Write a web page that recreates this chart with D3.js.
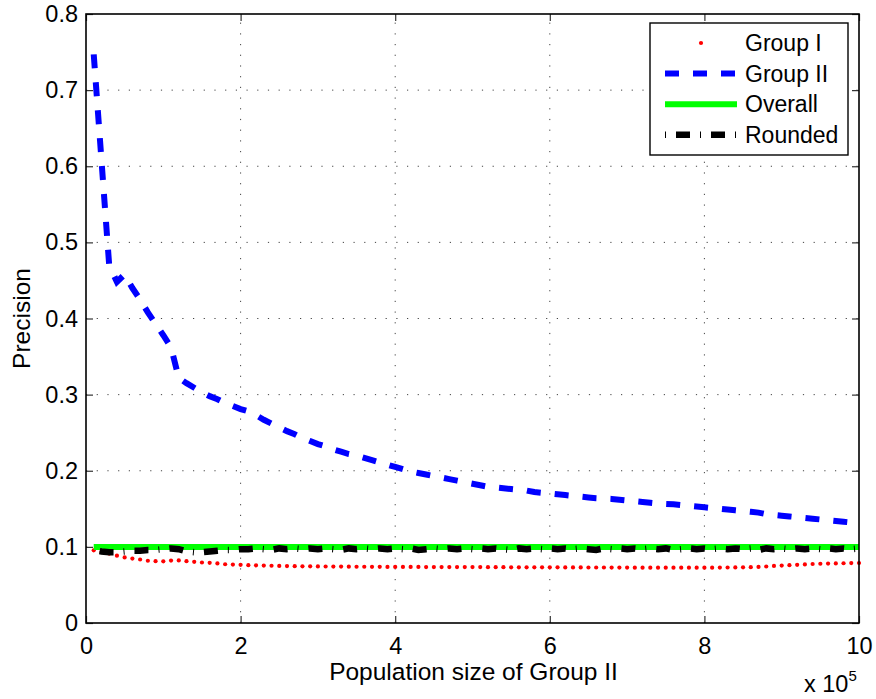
<!DOCTYPE html>
<html>
<head>
<meta charset="utf-8">
<script src="https://cdn.jsdelivr.net/npm/d3@7/dist/d3.min.js"></script>
<style>
  html, body { margin: 0; padding: 0; background: #fff; }
  svg text { font-family: "Liberation Sans", Arial, Helvetica, sans-serif; fill: #000; }
</style>
</head>
<body>
<svg id="chart" width="876" height="699"></svg>
<script>
// Population size of Group II, in units of 1e4 people
const populationSize = [
  1,2,3,4,5,6,7,8,9,10,11,12,13,14,15,16,17,18,19,20,
  21,22,23,24,25,26,27,28,29,30,31,32,33,34,35,36,37,38,39,40,
  41,42,43,44,45,46,47,48,49,50,51,52,53,54,55,56,57,58,59,60,
  61,62,63,64,65,66,67,68,69,70,71,72,73,74,75,76,77,78,79,80,
  81,82,83,84,85,86,87,88,89,90,91,92,93,94,95,96,97,98,99,100
];

const groupI = [
  0.0955,0.0933,0.0912,0.0885,0.0862,0.0846,0.0834,0.0818,0.0812,0.0810,
  0.0820,0.0822,0.0812,0.0803,0.0795,0.0790,0.0782,0.0772,0.0768,0.0764,
  0.0760,0.0757,0.0755,0.0752,0.0750,0.0748,0.0746,0.0745,0.0744,0.0743,
  0.0742,0.0741,0.0741,0.0740,0.0739,0.0739,0.0738,0.0738,0.0737,0.0737,
  0.0736,0.0736,0.0736,0.0735,0.0735,0.0735,0.0735,0.0734,0.0734,0.0734,
  0.0734,0.0733,0.0733,0.0733,0.0732,0.0732,0.0732,0.0731,0.0731,0.0731,
  0.0731,0.0730,0.0730,0.0730,0.0729,0.0729,0.0729,0.0728,0.0728,0.0728,
  0.0727,0.0727,0.0727,0.0727,0.0727,0.0727,0.0727,0.0727,0.0727,0.0727,
  0.0727,0.0728,0.0729,0.0730,0.0731,0.0733,0.0736,0.0742,0.0750,0.0755,
  0.0760,0.0764,0.0770,0.0775,0.0778,0.0781,0.0783,0.0785,0.0787,0.0788
];

const groupII = [
  0.747,0.608,0.470,0.448,0.458,0.440,0.425,0.408,0.393,0.378,
  0.362,0.322,0.315,0.309,0.303,0.298,0.294,0.289,0.285,0.281,
  0.278,0.273,0.267,0.262,0.257,0.252,0.248,0.243,0.239,0.235,
  0.232,0.228,0.225,0.222,0.220,0.217,0.214,0.211,0.208,0.205,
  0.202,0.199,0.197,0.195,0.193,0.191,0.189,0.187,0.185,0.183,
  0.181,0.179,0.178,0.177,0.176,0.175,0.174,0.172,0.171,0.170,
  0.169,0.168,0.167,0.166,0.165,0.164,0.1635,0.163,0.162,0.161,
  0.160,0.159,0.158,0.157,0.1565,0.156,0.155,0.154,0.153,0.152,
  0.151,0.150,0.149,0.148,0.147,0.146,0.145,0.143,0.142,0.141,
  0.140,0.139,0.138,0.137,0.136,0.135,0.134,0.133,0.132,0.131
];

const overall = [
  0.1,0.1,0.1,0.1,0.1,0.1,0.1,0.1,0.1,0.1,0.1,0.1,0.1,0.1,0.1,0.1,0.1,0.1,0.1,0.1,
  0.1,0.1,0.1,0.1,0.1,0.1,0.1,0.1,0.1,0.1,0.1,0.1,0.1,0.1,0.1,0.1,0.1,0.1,0.1,0.1,
  0.1,0.1,0.1,0.1,0.1,0.1,0.1,0.1,0.1,0.1,0.1,0.1,0.1,0.1,0.1,0.1,0.1,0.1,0.1,0.1,
  0.1,0.1,0.1,0.1,0.1,0.1,0.1,0.1,0.1,0.1,0.1,0.1,0.1,0.1,0.1,0.1,0.1,0.1,0.1,0.1,
  0.1,0.1,0.1,0.1,0.1,0.1,0.1,0.1,0.1,0.1,0.1,0.1,0.1,0.1,0.1,0.1,0.1,0.1,0.1,0.1
];

const rounded = [
  0.096,0.094,0.093,0.093,0.094,0.095,0.095,0.096,0.096,0.097,
  0.098,0.097,0.094,0.093,0.093,0.094,0.095,0.096,0.096,0.097,
  0.097,0.098,0.097,0.096,0.098,0.097,0.098,0.097,0.098,0.097,
  0.098,0.097,0.096,0.098,0.097,0.098,0.097,0.098,0.097,0.098,
  0.097,0.098,0.096,0.097,0.098,0.097,0.098,0.097,0.098,0.097,
  0.098,0.097,0.098,0.097,0.096,0.098,0.097,0.098,0.097,0.098,
  0.097,0.098,0.097,0.098,0.097,0.096,0.098,0.097,0.098,0.097,
  0.098,0.097,0.098,0.097,0.098,0.096,0.097,0.098,0.097,0.098,
  0.097,0.098,0.097,0.098,0.097,0.098,0.096,0.098,0.097,0.098,
  0.097,0.098,0.097,0.098,0.097,0.098,0.097,0.098,0.097,0.098
];

const xTicks = [0, 2, 4, 6, 8, 10];          // in units of 1e5
const yTicks = [0, 0.1, 0.2, 0.3, 0.4, 0.5, 0.6, 0.7, 0.8];
const seriesNames = ["Group I", "Group II", "Overall", "Rounded"];

const svg = d3.select("#chart");
const W = 876, H = 699;
const margin = { left: 86, right: 17, top: 14, bottom: 76 };
const plotW = W - margin.left - margin.right;
const plotH = H - margin.top - margin.bottom;

const x = d3.scaleLinear().domain([0, 10]).range([margin.left, margin.left + plotW]);
const y = d3.scaleLinear().domain([0, 0.8]).range([margin.top + plotH, margin.top]);

const xv = i => x(populationSize[i] / 10);   // 1e4 units -> 1e5 units

svg.append("rect").attr("width", W).attr("height", H).attr("fill", "#fff");

// grid
const grid = svg.append("g").attr("stroke", "#444").attr("stroke-width", 1)
  .attr("stroke-dasharray", "1.2,9.5").attr("fill", "none");
xTicks.slice(1, -1).forEach(t => {
  grid.append("line").attr("x1", x(t)).attr("x2", x(t))
    .attr("y1", y(0)).attr("y2", y(0.8));
});
yTicks.slice(1, -1).forEach(t => {
  grid.append("line").attr("x1", x(0)).attr("x2", x(10))
    .attr("y1", y(t)).attr("y2", y(t));
});

// axes: bottom/left with labels, top/right tick marks only, all inward
const tickLen = 7;
const fs = 23.5;
const axB = svg.append("g").attr("transform", `translate(0,${y(0)})`)
  .call(d3.axisBottom(x).tickValues(xTicks).tickSize(-tickLen).tickPadding(tickLen + 7).tickFormat(d3.format("d")));
const axT = svg.append("g").attr("transform", `translate(0,${y(0.8)})`)
  .call(d3.axisTop(x).tickValues(xTicks).tickSize(-tickLen).tickFormat(""));
const axL = svg.append("g").attr("transform", `translate(${x(0)},0)`)
  .call(d3.axisLeft(y).tickValues(yTicks).tickSize(-tickLen).tickPadding(8).tickFormat(d => d === 0 ? "0" : d3.format(".1f")(d)));
const axR = svg.append("g").attr("transform", `translate(${x(10)},0)`)
  .call(d3.axisRight(y).tickValues(yTicks).tickSize(-tickLen).tickFormat(""));
[axB, axT, axL, axR].forEach(a => {
  a.select(".domain").remove();
  a.selectAll(".tick line").attr("stroke", "#333").attr("stroke-width", 1.2);
  a.selectAll("text").attr("font-size", fs)
    .attr("font-family", "'Liberation Sans', Arial, sans-serif").attr("fill", "#000");
});
axB.selectAll("text").attr("dy", "0.71em");

// data series
const line = d3.line().x((d, i) => xv(i)).y(d => y(d));

svg.append("g").selectAll("circle").data(groupI).join("circle")
  .attr("cx", (d, i) => xv(i)).attr("cy", d => y(d)).attr("r", 2.1).attr("fill", "#ff0000");

svg.append("path").datum(groupII).attr("d", line)
  .attr("fill", "none").attr("stroke", "#0000ff").attr("stroke-width", 6)
  .attr("stroke-dasharray", "14,14");

svg.append("path").datum(overall).attr("d", line)
  .attr("fill", "none").attr("stroke", "#00ff00").attr("stroke-width", 6);

svg.append("path").datum(rounded).attr("d", line)
  .attr("fill", "none").attr("stroke", "#000").attr("stroke-width", 6.5)
  .attr("stroke-dasharray", "14,10,1,10").attr("stroke-dashoffset", -6);

// plot frame
svg.append("rect").attr("x", x(0)).attr("y", y(0.8))
  .attr("width", x(10) - x(0)).attr("height", y(0) - y(0.8))
  .attr("fill", "none").attr("stroke", "#000").attr("stroke-width", 1.6);

// axis titles
svg.append("text").attr("x", (x(0) + x(10)) / 2 + 1).attr("y", 680)
  .attr("text-anchor", "middle").attr("font-size", 24.5).text("Population size of Group II");
svg.append("text").attr("transform", `translate(30,${(y(0) + y(0.8)) / 2}) rotate(-90)`)
  .attr("text-anchor", "middle").attr("font-size", 24.5).text("Precision");
const mult = svg.append("text").attr("x", 804).attr("y", 692).attr("font-size", fs);
mult.append("tspan").text("x 10");
mult.append("tspan").attr("dy", -11).attr("font-size", 15).text("5");

// legend
const lg = svg.append("g");
const lgX = 650, lgY = 23, lgW = 198, lgH = 132;
lg.append("rect").attr("x", lgX).attr("y", lgY).attr("width", lgW).attr("height", lgH)
  .attr("fill", "#fff").attr("stroke", "#000").attr("stroke-width", 1.4);
const rowY = i => lgY + 20 + i * 30.6;
const s0 = 665, s1 = 737;
seriesNames.forEach((name, i) => {
  const yy = rowY(i);
  if (i === 0) {
    lg.append("circle").attr("cx", (s0 + s1) / 2).attr("cy", yy).attr("r", 2.1).attr("fill", "#ff0000");
  } else if (i === 1) {
    lg.append("line").attr("x1", s0).attr("x2", s1).attr("y1", yy).attr("y2", yy)
      .attr("stroke", "#0000ff").attr("stroke-width", 6).attr("stroke-dasharray", "14,14");
  } else if (i === 2) {
    lg.append("line").attr("x1", s0).attr("x2", s1).attr("y1", yy).attr("y2", yy)
      .attr("stroke", "#00ff00").attr("stroke-width", 6);
  } else {
    lg.append("line").attr("x1", s0).attr("x2", s1 + 1).attr("y1", yy).attr("y2", yy)
      .attr("stroke", "#000").attr("stroke-width", 6.5)
      .attr("stroke-dasharray", "14,10,1,10").attr("stroke-dashoffset", 24);
  }
  lg.append("text").attr("x", 745).attr("y", yy).attr("dy", "0.36em")
    .attr("font-size", 23).text(name);
});
</script>
</body>
</html>
